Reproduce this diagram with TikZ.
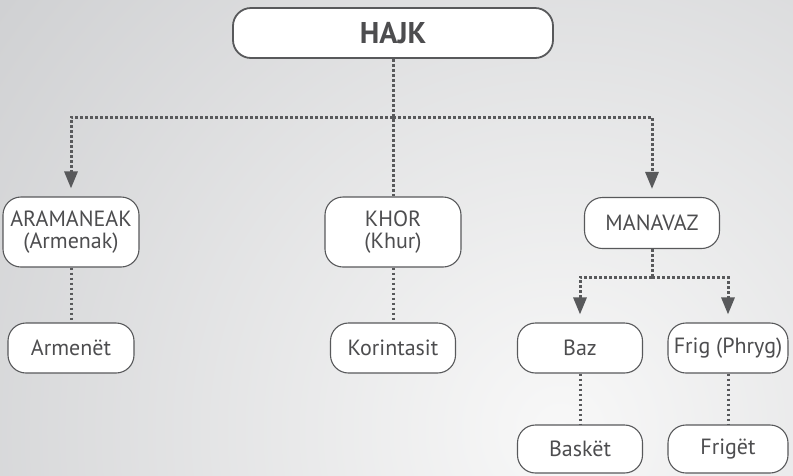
\documentclass[tikz,border=0pt]{standalone}
\usepackage{fontspec}
\setmainfont{PT Sans}
\usetikzlibrary{arrows.meta}

\definecolor{linegray}{HTML}{58595B}
\definecolor{textgray}{HTML}{4D4D4F}
\definecolor{bgout}{HTML}{CFD0D2}
\definecolor{bgin}{HTML}{F8F8F8}

\tikzset{
  box/.style={draw=linegray, line width=1.1pt, fill=white, rounded corners=18pt,
    text=textgray, font=\fontsize{22}{22}\selectfont, align=center, inner sep=0pt},
  link/.style={draw=linegray, line width=3pt, dash pattern=on 2.8pt off 2.2pt},
  tip/.style={-{Triangle[width=13pt, length=17pt]}, shorten >=8pt}
}

\begin{document}
\begin{tikzpicture}[x=1pt, y=-1pt]
  % background
  \begin{scope}
    \clip (0, 0) rectangle (793, 475);
    \shade[inner color=bgin, outer color=bgout] (560, 430) circle (720);
  \end{scope}
  \useasboundingbox (0, 0) rectangle (793, 475);

  \node[box, line width=1.8pt, minimum width=320pt, minimum height=50pt,
    font=\fontsize{30}{30}\selectfont\bfseries] (hajk) at (393, 33) {HAJK};

  \node[box, minimum width=136pt, minimum height=70pt] (aram) at (71, 232) {ARAMANEAK\\(Armenak)};
  \node[box, minimum width=136pt, minimum height=70pt] (khor) at (393, 232) {KHOR\\(Khur)};
  \node[box, minimum width=135pt, minimum height=51pt] (manavaz) at (652, 223) {MANAVAZ};

  \node[box, minimum width=126pt, minimum height=50pt] (armenet) at (71, 348) {Armenët};
  \node[box, minimum width=125pt, minimum height=50pt] (korint) at (393, 348) {Korintasit};
  \node[box, minimum width=125pt, minimum height=50pt] (baz) at (580, 348) {Baz};
  \node[box, minimum width=120pt, minimum height=50pt] (frig) at (728, 348) {Frig (Phryg)};

  \node[box, minimum width=125pt, minimum height=48pt] (basket) at (580, 449) {Baskët};
  \node[box, minimum width=120pt, minimum height=48pt] (friget) at (728, 449) {Frigët};

  \coordinate (top) at (393, 117);
  \coordinate (mid) at (652, 277);

  \draw[link] (hajk.south) -- (khor.north);
  \draw[link, tip] (top) -| (aram.north);
  \draw[link, tip] (top) -| (manavaz.north);

  \draw[link] (manavaz.south) -- (mid);
  \draw[link, tip] (mid) -| (baz.north);
  \draw[link, tip] (mid) -| (frig.north);

  \foreach \a/\b in {aram/armenet, khor/korint, baz/basket, frig/friget}
  {
  \draw[link] (\a.south) -- (\b.north);
  }
\end{tikzpicture}
\end{document}
